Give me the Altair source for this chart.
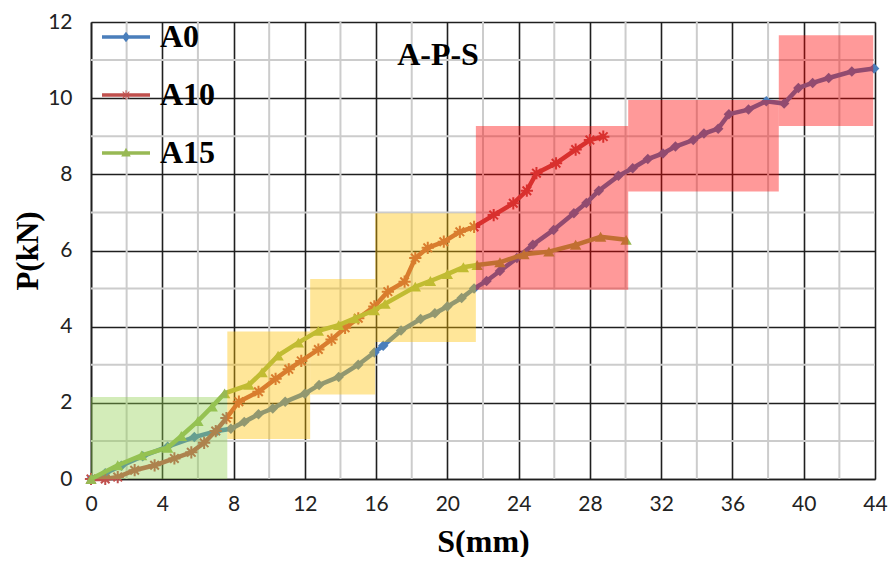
import altair as alt
import pandas as pd

# ---------------- data ----------------
series_names = ["A0", "A10", "A15"]

a0_s = [0, 0.8, 1.7, 2.9, 4.3, 5.8, 7.07, 7.85, 8.6, 9.4, 10.2, 10.9, 12.0, 12.8, 13.9, 15.0,
        15.9, 16.4, 17.4, 18.5, 19.3, 20.0, 20.8, 21.5, 22.2, 22.95, 23.9, 24.8, 25.96, 27.1,
        27.8, 28.5, 29.6, 30.4, 31.25, 32.1, 32.8, 33.8, 34.4, 35.2, 35.8, 36.9, 37.9, 38.9,
        39.7, 40.5, 41.4, 42.7, 43.95]
a0_p = [0, 0.15, 0.35, 0.6, 0.85, 1.1, 1.26, 1.32, 1.5, 1.7, 1.85, 2.03, 2.24, 2.47, 2.68, 3.0,
        3.32, 3.5, 3.9, 4.2, 4.35, 4.53, 4.75, 5.0, 5.2, 5.46, 5.8, 6.15, 6.54, 6.98,
        7.25, 7.57, 7.96, 8.16, 8.4, 8.55, 8.73, 8.9, 9.07, 9.2, 9.58, 9.7, 9.92, 9.86,
        10.27, 10.4, 10.53, 10.7, 10.78]

a10_s = [0, 0.8, 1.5, 2.45, 3.57, 4.68, 5.63, 6.35, 7.0, 7.6, 8.3, 9.4, 10.36, 11.1, 11.8, 12.76,
         13.5, 14.26, 15.0, 15.9, 16.66, 17.6, 18.2, 18.9, 19.8, 20.7, 21.5, 22.6, 23.7, 24.46,
         25.0, 26.1, 27.2, 28.0, 28.75]
a10_p = [0, 0, 0.05, 0.23, 0.36, 0.54, 0.7, 0.95, 1.26, 1.6, 2.03, 2.29, 2.63, 2.88, 3.1, 3.4,
         3.66, 3.97, 4.22, 4.53, 4.92, 5.18, 5.8, 6.07, 6.23, 6.49, 6.62, 6.93, 7.24, 7.57,
         8.03, 8.29, 8.65, 8.9, 8.99]

a15_s = [0, 1.5, 2.84, 4.3, 5.07, 6.0, 6.8, 7.5, 8.86, 9.6, 10.5, 11.64, 12.76, 13.9, 14.8, 15.9,
         16.5, 18.2, 19.05, 20.0, 20.9, 21.67, 22.95, 24.3, 25.7, 27.2, 28.6, 30.03]
a15_p = [0, 0.36, 0.62, 0.82, 1.13, 1.52, 1.9, 2.25, 2.47, 2.8, 3.24, 3.58, 3.89, 4.04, 4.22, 4.43,
         4.6, 5.05, 5.2, 5.38, 5.56, 5.62, 5.69, 5.9, 5.97, 6.15, 6.36, 6.28]

# shaded stage zones
zone_stage = ["I", "II", "II", "II", "III", "III", "III"]
zone_s1 = [0, 7.65, 12.3, 15.95, 21.6, 30.15, 38.6]
zone_s2 = [7.65, 12.3, 15.95, 21.6, 30.15, 38.6, 43.9]
zone_p1 = [0, 1.05, 2.22, 3.6, 4.97, 7.55, 9.27]
zone_p2 = [2.15, 3.87, 5.25, 6.98, 9.27, 9.95, 11.65]

x_ticks = [0, 4, 8, 12, 16, 20, 24, 28, 32, 36, 40, 44]
y_ticks = [0, 2, 4, 6, 8, 10, 12]
x_minor = [2, 6, 10, 14, 18, 22, 26, 30, 34, 38, 42]
y_minor = [1, 3, 5, 7, 9, 11]

chart_title = "A-P-S"

# ---------------- tables ----------------
frames = []
for name, s, p in [("A0", a0_s, a0_p), ("A10", a10_s, a10_p), ("A15", a15_s, a15_p)]:
    frames.append(pd.DataFrame({"series": name, "s": s, "p": p}))
df = pd.concat(frames, ignore_index=True)
zones = pd.DataFrame({"stage": zone_stage, "s1": zone_s1, "s2": zone_s2, "p1": zone_p1, "p2": zone_p2})

series_colors = ["#4A7EBB", "#C0504D", "#98B954"]
color_of = dict(zip(series_names, series_colors))
color_scale = alt.Scale(domain=series_names, range=series_colors)

SERIF = "Liberation Serif"
SANS = "Lato"

x_axis = alt.Axis(values=x_ticks, grid=True, gridColor="#1f1f1f", gridWidth=1.6,
                  domainColor="#1f1f1f", domainWidth=1.6, ticks=False, tickSize=0,
                  labelFont=SANS, labelFontSize=21, labelColor="#222", labelPadding=14,
                  labelFlush=False,
                  title="S(mm)", titleFont=SERIF, titleFontSize=32, titleFontWeight="bold",
                  titleColor="black", titlePadding=12)
y_axis = alt.Axis(values=y_ticks, grid=True, gridColor="#1f1f1f", gridWidth=1.6,
                  domainColor="#1f1f1f", domainWidth=1.6, ticks=False, tickSize=0,
                  labelFont=SANS, labelFontSize=21, labelColor="#222", labelPadding=19,
                  labelFlush=False,
                  title="P(kN)", titleFont=SERIF, titleFontSize=31, titleFontWeight="bold",
                  titleColor="black", titlePadding=3)
xs = alt.Scale(domain=[0, 44], nice=False, zero=False)
ys = alt.Scale(domain=[0, 12], nice=False, zero=False)


def X(field):
    return alt.X(field, type="quantitative", scale=xs, axis=x_axis)


def Y(field):
    return alt.Y(field, type="quantitative", scale=ys, axis=y_axis)


minor_v = alt.Chart(pd.DataFrame({"gx": x_minor})).mark_rule(color="#CCCCCC", strokeWidth=2).encode(x=X("gx"))
minor_h = alt.Chart(pd.DataFrame({"gy": y_minor})).mark_rule(color="#CCCCCC", strokeWidth=2).encode(y=Y("gy"))

line_layers = []
marker_shapes = {
    "A0": dict(shape="diamond", filled=True, size=110),
    "A10": dict(shape="M-1,0L1,0M0,-1L0,1M-0.7,-0.7L0.7,0.7M-0.7,0.7L0.7,-0.7",
                filled=False, size=150, strokeWidth=2),
    "A15": dict(shape="triangle-up", filled=True, size=130),
}
for name in series_names:
    sub = alt.Chart(df[df["series"] == name])
    ln = sub.mark_line(strokeWidth=4.5, color=color_of[name]).encode(x=X("s"), y=Y("p"))
    pt = sub.mark_point(opacity=1, color=color_of[name], **marker_shapes[name]).encode(x=X("s"), y=Y("p"))
    line_layers += [ln, pt]

zone_layer = alt.Chart(zones).mark_rect(opacity=0.4).encode(
    x=X("s1"), x2="s2", y=Y("p1"), y2="p2",
    fill=alt.Fill("stage:N", scale=alt.Scale(domain=["I", "II", "III"],
                                             range=["#92D050", "#FFC000", "#FF0000"]), legend=None))

title_layer = alt.Chart(pd.DataFrame({"t": [chart_title]})).mark_text(
    font=SERIF, fontSize=32, fontWeight="bold", color="black", align="center", baseline="middle"
).encode(x=alt.value(347), y=alt.value(33), text="t:N")

# legend: line + marker glyphs
leg_line = "M-1,-0.075H1V0.075H-1Z"
leg_paths = [
    leg_line + " M0,-0.22L0.17,0L0,0.22L-0.17,0Z",
    leg_line + " M-0.02,-0.2H0.02V0.2H-0.02Z"
    " M-0.126,-0.154L0.154,0.126L0.126,0.154L-0.154,-0.126Z"
    " M-0.154,0.126L0.126,-0.154L0.154,-0.126L-0.126,0.154Z",
    leg_line + " M0,-0.22L0.2,0.15L-0.2,0.15Z",
]
legend = alt.Legend(title=None, orient="none", legendX=11, legendY=-9, direction="vertical",
                    symbolSize=2304, symbolOpacity=1, symbolStrokeWidth=0,
                    labelFont=SERIF, labelFontSize=32, labelFontWeight="bold", labelColor="black",
                    labelOffset=10, rowPadding=18, padding=0)
legend_layer = alt.Chart(df).mark_point(filled=True, opacity=0).encode(
    x=X("s"), y=Y("p"),
    color=alt.Color("series:N", scale=color_scale, legend=legend),
    shape=alt.Shape("series:N", scale=alt.Scale(domain=series_names, range=leg_paths), legend=legend),
)

chart = alt.layer(minor_v, minor_h, *line_layers, zone_layer, title_layer, legend_layer).properties(
    width=784, height=457,
    autosize=alt.AutoSizeParams(type="none"),
    padding={"left": 83, "top": 14, "right": 13, "bottom": 78},
    background="white",
).configure_view(stroke=None)

chart.save("out.html", embed_options={"renderer": "svg", "actions": False})
